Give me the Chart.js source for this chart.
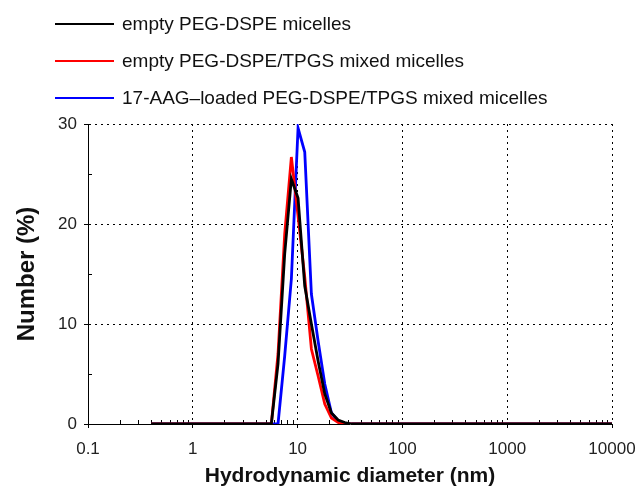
<!DOCTYPE html>
<html>
<head>
<meta charset="utf-8">
<script src="https://cdn.jsdelivr.net/npm/chart.js@4.4.1/dist/chart.umd.min.js"></script>
<style>
  body { margin: 0; background: #fff; }
  #wrap { position: relative; width: 640px; height: 489px; }
  #legend { position: absolute; left: 0; top: 0; font-family: "Liberation Sans", Arial, sans-serif; font-size: 19px; color: #111; }
  .row { position: absolute; left: 55px; height: 22px; white-space: nowrap; }
  .row .ln { position: absolute; left: 0; top: 10px; width: 59px; height: 2px; }
  .row .tx { position: absolute; left: 67px; top: 0; line-height: 22px; }
</style>
</head>
<body>
<div id="wrap">
  <canvas id="dls" width="640" height="489"></canvas>
  <div id="legend"></div>
</div>
<script>
// hydrodynamic diameter bins (nm) and number distribution (%)
const sizes = [0.4, 5.615, 6.503, 7.531, 8.721, 10.1, 11.7, 13.54, 15.69, 18.17, 21.04, 24.36, 28.21, 32.67, 10000];
const emptyPegDspe = [0, 0, 6, 17, 24.5, 22.6, 13.8, 10, 6.3, 3, 1.1, 0.4, 0.15, 0, 0];
const emptyMixed = [0, 0, 7, 19, 26.7, 20.8, 14.7, 7.5, 4.8, 2, 0.6, 0.15, 0, 0, 0];
const loadedMixed = [0, 0, 0, 6.8, 14.5, 29.6, 27.2, 13, 8.3, 4, 1.1, 0.3, 0, 0, 0];

const seriesLabels = ['empty PEG-DSPE micelles', 'empty PEG-DSPE/TPGS mixed micelles', '17-AAG\u2013loaded PEG-DSPE/TPGS mixed micelles'];
const seriesColors = ['#000000', '#ff0000', '#0000ff'];

const xDecades = [0.1, 1, 10, 100, 1000, 10000];
const xTickLabels = ['0.1', '1', '10', '100', '1000', '10000'];
const yTickLabels = ['0', '10', '20', '30'];

const fam = '"Liberation Sans", Arial, sans-serif';
Chart.defaults.font.family = fam;

let legend = document.getElementById('legend');
let rowTops = [13, 50, 87];
seriesLabels.forEach(function(lbl, i) {
    let row = document.createElement('div');
    row.className = 'row';
    row.style.top = rowTops[i] + 'px';
    row.innerHTML = '<span class="ln" style="background:' + seriesColors[i] + '"></span><span class="tx"></span>';
    row.querySelector('.tx').textContent = lbl;
    legend.appendChild(row);
});

function toPoints(ys) {
    return ys.map(function(v, i) { return {x: sizes[i], y: v}; });
}

const clear = 'rgba(0,0,0,0)';

// minor tick marks point into the plot
const minorTicks = {
    id: 'minorTicks',
    beforeDatasetsDraw(chart) {
        const {ctx, scales, chartArea} = chart;
        ctx.save();
        ctx.strokeStyle = '#000';
        ctx.lineWidth = 1;
        ctx.beginPath();
        scales.x.ticks.forEach(function(t) {
            if (!t.major) {
                let px = Math.round(scales.x.getPixelForValue(t.value)) + 0.5;
                ctx.moveTo(px, chartArea.bottom);
                ctx.lineTo(px, chartArea.bottom - 4);
            }
        });
        scales.y.ticks.forEach(function(t) {
            if (t.value % 10 !== 0) {
                let py = Math.round(scales.y.getPixelForValue(t.value)) + 0.5;
                ctx.moveTo(chartArea.left, py);
                ctx.lineTo(chartArea.left + 4, py);
            }
        });
        ctx.stroke();
        ctx.restore();
    }
};

var chart = new Chart(document.getElementById('dls').getContext('2d'), {
    type: 'line',
    data: {
        datasets: [emptyPegDspe, emptyMixed, loadedMixed].map(function(ys, i) {
            return {
                label: seriesLabels[i],
                data: toPoints(ys),
                borderColor: seriesColors[i],
                borderWidth: 2.8,
                pointRadius: 0,
                tension: 0,
                fill: false
            };
        })
    },
    options: {
        responsive: false,
        animation: false,
        layout: { padding: { top: 124, right: 28, left: 0, bottom: 0 } },
        plugins: { legend: { display: false }, tooltip: { enabled: false } },
        scales: {
            x: {
                type: 'logarithmic',
                min: 0.1,
                max: 10000,
                afterBuildTicks: function(s) {
                    let t = [];
                    xDecades.forEach(function(d, i) {
                        t.push({value: d, major: true});
                        if (i < xDecades.length - 1) {
                            for (let m = 2; m < 10; m++) t.push({value: d * m, major: false});
                        }
                    });
                    s.ticks = t;
                },
                afterFit: function(s) { s.height = 65; s.paddingLeft = 0; s.paddingRight = 0; },
                ticks: {
                    autoSkip: false,
                    maxRotation: 0,
                    padding: 11,
                    color: '#222',
                    font: { size: 17 },
                    callback: function(v) {
                        let i = xDecades.indexOf(v);
                        return i >= 0 ? xTickLabels[i] : '';
                    }
                },
                grid: {
                    color: function(c) { return (c.tick && c.tick.major && c.tick.value > 0.1) ? '#000' : clear; },
                    tickColor: function(c) { return (c.tick && c.tick.major) ? '#000' : clear; },
                    tickLength: 4,
                    lineWidth: 1
                },
                border: { color: '#000', width: 1, dash: [2, 4] },
                title: {
                    display: true,
                    text: 'Hydrodynamic diameter (nm)',
                    color: '#111',
                    font: { size: 21, weight: 'bold' },
                    padding: { top: 0, bottom: 0 }
                }
            },
            y: {
                min: 0,
                max: 30,
                afterFit: function(s) { s.width = 88; s.paddingTop = 0; s.paddingBottom = 0; },
                ticks: {
                    stepSize: 5,
                    padding: 7,
                    color: '#222',
                    font: { size: 17 },
                    callback: function(v) { return v % 10 === 0 ? yTickLabels[v / 10] : ''; }
                },
                grid: {
                    color: function(c) { return (c.tick && c.tick.value % 10 === 0 && c.tick.value > 0) ? '#000' : clear; },
                    tickColor: function(c) { return (c.tick && c.tick.value % 10 === 0) ? '#000' : clear; },
                    tickLength: 4,
                    lineWidth: 1
                },
                border: { color: '#000', width: 1, dash: [2, 4] },
                title: {
                    display: true,
                    text: 'Number (%)',
                    color: '#111',
                    font: { size: 24, weight: 'bold' },
                    padding: { top: 13, bottom: 0 }
                }
            }
        }
    },
    plugins: [minorTicks]
});
</script>
</body>
</html>
